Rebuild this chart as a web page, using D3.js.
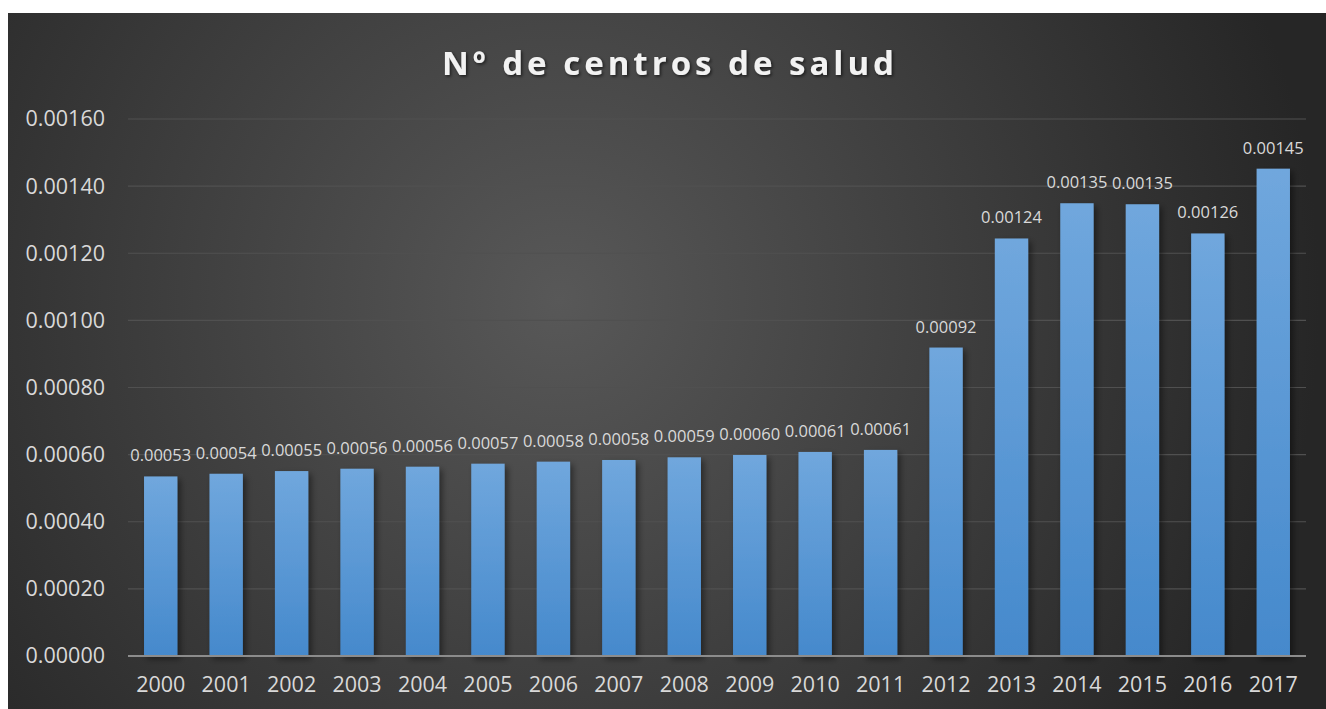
<!DOCTYPE html>
<html lang="en">
<head>
    <meta charset="UTF-8">
    <title>Nº de centros de salud</title>
    <script src="https://d3js.org/d3.v7.min.js"></script>
    <style>
        body { margin: 0; background: #fff; }
        text { font-family: "Open Sans", sans-serif; }
    </style>
</head>
<body>
    <svg></svg>
    <script>
        const years = ["2000", "2001", "2002", "2003", "2004", "2005", "2006", "2007", "2008",
            "2009", "2010", "2011", "2012", "2013", "2014", "2015", "2016", "2017"];
        const values = [0.000535, 0.000543, 0.000551, 0.000558, 0.000564, 0.000573, 0.000579, 0.000584,
            0.000592, 0.000599, 0.000608, 0.000614, 0.000919, 0.001244, 0.001349, 0.001346, 0.001259, 0.001452];
        const yTicks = [0, 0.0002, 0.0004, 0.0006, 0.0008, 0.001, 0.0012, 0.0014, 0.0016];
        const title = "Nº de centros de salud";

        const width = 1326, height = 709;
        const svg = d3.select("svg").attr("width", width).attr("height", height);
        const defs = svg.append("defs");

        const bg = defs.append("radialGradient").attr("id", "bg")
            .attr("gradientUnits", "userSpaceOnUse")
            .attr("cx", 560).attr("cy", 300).attr("r", 760);
        bg.append("stop").attr("offset", "0").attr("stop-color", "#585858");
        bg.append("stop").attr("offset", "1").attr("stop-color", "#262626");

        const barGrad = defs.append("linearGradient").attr("id", "bar")
            .attr("x1", 0).attr("y1", 0).attr("x2", 0).attr("y2", 1);
        barGrad.append("stop").attr("offset", "0").attr("stop-color", "#70a7dd");
        barGrad.append("stop").attr("offset", "1").attr("stop-color", "#4589cc");

        const shadow = defs.append("filter").attr("id", "shadow")
            .attr("x", "-20%").attr("y", "-20%").attr("width", "160%").attr("height", "140%");
        shadow.append("feDropShadow").attr("dx", 3).attr("dy", 3).attr("stdDeviation", 3)
            .attr("flood-color", "#000").attr("flood-opacity", 0.45);

        const tshadow = defs.append("filter").attr("id", "tshadow");
        tshadow.append("feDropShadow").attr("dx", 1.5).attr("dy", 1.5).attr("stdDeviation", 1.5)
            .attr("flood-color", "#000").attr("flood-opacity", 0.6);

        svg.append("rect").attr("x", 8).attr("y", 13).attr("width", width - 8).attr("height", height - 13)
            .attr("fill", "url(#bg)");

        const margin = { left: 128, right: 20, top: 119, bottom: 53 };
        const x = d3.scaleBand().domain(years)
            .range([margin.left, width - margin.right]).paddingInner(0.49).paddingOuter(0.245);
        const y = d3.scaleLinear().domain([0, 0.0016]).range([height - margin.bottom, margin.top]);

        // gridlines
        svg.append("g").selectAll("line").data(yTicks.slice(1)).join("line")
            .attr("x1", margin.left).attr("x2", width - margin.right)
            .attr("y1", d => y(d)).attr("y2", d => y(d))
            .attr("stroke", "#505050").attr("stroke-width", 1.2);

        // y tick labels
        const yAxis = svg.append("g").attr("transform", `translate(${margin.left - 23},0)`)
            .call(d3.axisLeft(y).tickValues(yTicks).tickFormat(d3.format(".5f")).tickSize(0));
        yAxis.select(".domain").remove();
        yAxis.selectAll("text").attr("fill", "#d9d9d9").attr("font-size", 21.5)
            .attr("font-family", "'Open Sans', sans-serif").attr("x", 0);

        // bars
        svg.append("g").selectAll("rect").data(values).join("rect")
            .attr("x", (d, i) => x(years[i]))
            .attr("width", x.bandwidth())
            .attr("y", d => y(d))
            .attr("height", d => y(0) - y(d))
            .attr("fill", "url(#bar)")
            .attr("filter", "url(#shadow)");

        // baseline
        svg.append("line").attr("x1", margin.left).attr("x2", width - margin.right)
            .attr("y1", y(0)).attr("y2", y(0))
            .attr("stroke", "#8c8c8c").attr("stroke-width", 2);

        // value labels
        svg.append("g").selectAll("text").data(values).join("text")
            .attr("x", (d, i) => x(years[i]) + x.bandwidth() / 2)
            .attr("y", d => y(d) - 15)
            .attr("text-anchor", "middle")
            .attr("fill", "#d9d9d9").attr("font-size", 16.5)
            .text(d => d3.format(".5f")(d));

        // x axis labels
        const xAxis = svg.append("g").attr("transform", `translate(0,${y(0)})`)
            .call(d3.axisBottom(x).tickSize(0).tickPadding(21));
        xAxis.select(".domain").remove();
        xAxis.selectAll("text").attr("fill", "#d9d9d9").attr("font-size", 21.5)
            .attr("font-family", "'Open Sans', sans-serif");

        // title
        svg.append("text").attr("x", 670).attr("y", 75)
            .attr("text-anchor", "middle")
            .attr("fill", "#f2f2f2").attr("font-size", 33).attr("font-weight", "bold")
            .attr("letter-spacing", 4)
            .attr("filter", "url(#tshadow)")
            .text(title);
    </script>
</body>
</html>
